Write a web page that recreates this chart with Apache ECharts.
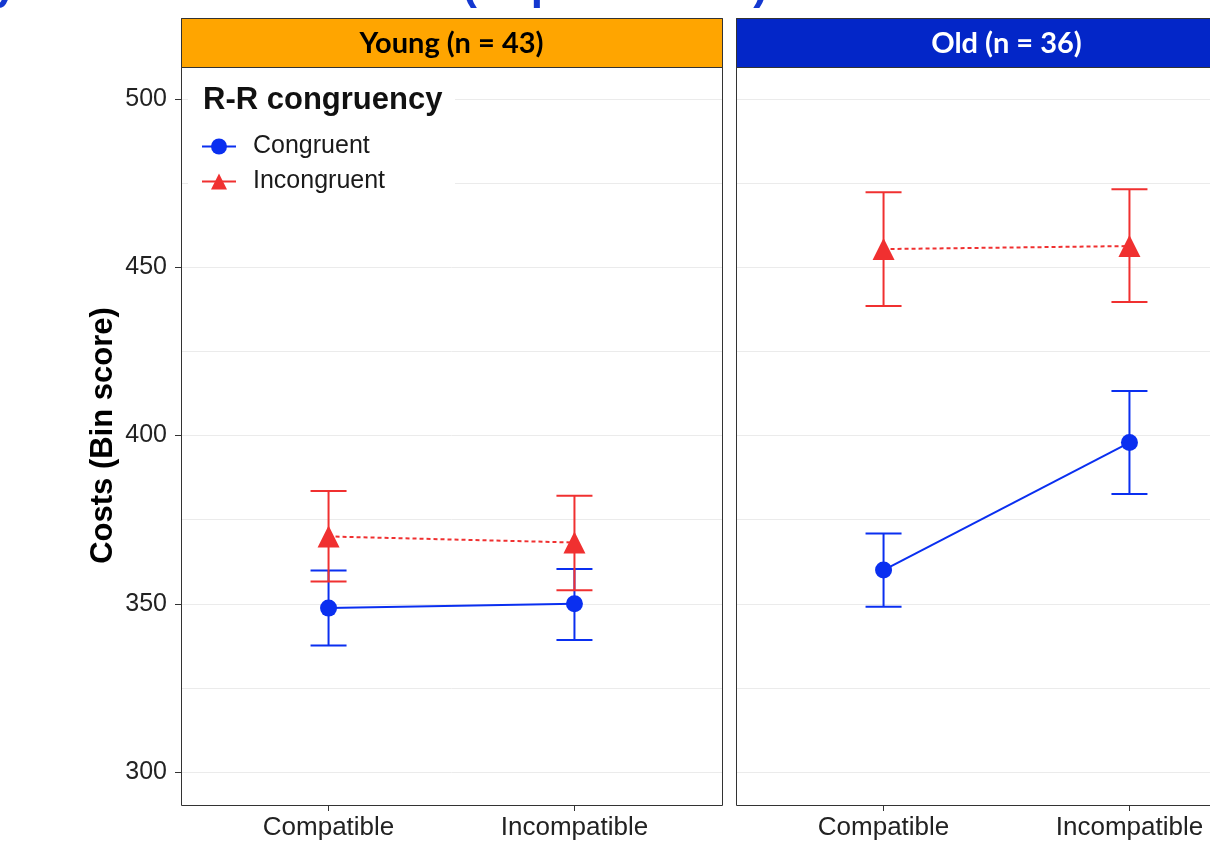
<!DOCTYPE html>
<html>
<head>
<meta charset="utf-8">
<script src="https://cdn.jsdelivr.net/npm/echarts@6/dist/echarts.min.js"></script>
<style>
  html, body { margin: 0; padding: 0; background: #fff; }
  #chart { width: 1210px; height: 843px; }
</style>
</head>
<body>
<div id="chart"></div>
<script>
// 横轴类别
const categories = ['Compatible', 'Incompatible']

// Young (n = 43)
const youngCongruent = [348.7, 350.0]
const youngCongruentLow = [337.6, 339.2]
const youngCongruentHigh = [359.9, 360.3]
const youngIncongruent = [370.0, 368.2]
const youngIncongruentLow = [356.6, 354.0]
const youngIncongruentHigh = [383.5, 382.1]

// Old (n = 36)
const oldCongruent = [360.0, 397.9]
const oldCongruentLow = [349.1, 382.6]
const oldCongruentHigh = [370.9, 413.2]
const oldIncongruent = [455.4, 456.3]
const oldIncongruentLow = [438.5, 439.7]
const oldIncongruentHigh = [472.3, 473.2]

const BLUE = '#0a2ff0'
const RED = '#f03030'
const FONT = '"Liberation Sans", Arial, sans-serif'

const chart = echarts.init(document.getElementById('chart'), null, { renderer: 'canvas' })

const points = (vals) => vals.map((v, i) => [i + 1, v])
const bars = (low, high) => low.map((v, i) => [i + 1, v, high[i]])

// 误差线
const errorBar = (name, color, gridIndex, data) => ({
  name,
  type: 'custom',
  xAxisIndex: gridIndex,
  yAxisIndex: gridIndex,
  data,
  z: 3,
  itemStyle: { color },
  renderItem (params, api) {
    const top = api.coord([api.value(0), api.value(2)])
    const bot = api.coord([api.value(0), api.value(1)])
    const w = 18
    const style = { stroke: color, lineWidth: 2 }
    return {
      type: 'group',
      children: [
        { type: 'line', shape: { x1: top[0], y1: top[1], x2: bot[0], y2: bot[1] }, style },
        { type: 'line', shape: { x1: top[0] - w, y1: top[1], x2: top[0] + w, y2: top[1] }, style },
        { type: 'line', shape: { x1: bot[0] - w, y1: bot[1], x2: bot[0] + w, y2: bot[1] }, style }
      ]
    }
  }
})

const lineSeries = (name, color, gridIndex, data, dotted) => ({
  name,
  type: 'line',
  xAxisIndex: gridIndex,
  yAxisIndex: gridIndex,
  data,
  z: 4,
  symbol: dotted ? 'triangle' : 'circle',
  symbolSize: dotted ? 22 : 17,
  showAllSymbol: true,
  itemStyle: { color },
  lineStyle: { color, width: 2, type: dotted ? [4, 3] : 'solid' },
  emphasis: { disabled: true }
})

const xAxis = (gridIndex) => ({
  type: 'value',
  gridIndex,
  min: 0.4,
  max: 2.6,
  offset: -135.25,
  axisLine: { show: false },
  splitLine: { show: false },
  axisTick: { show: true, length: 6, customValues: [1, 2], lineStyle: { color: '#333', width: 1 } },
  axisLabel: {
    customValues: [1, 2],
    formatter: (v) => categories[Math.round(v) - 1],
    margin: 10,
    fontSize: 26,
    fontFamily: FONT,
    color: '#222'
  }
})

// 主刻度 50，次网格 25
const yAxis = (gridIndex) => ({
  type: 'value',
  gridIndex,
  min: 250,
  max: 550,
  interval: 50,
  name: gridIndex === 0 ? 'Costs (Bin score)' : '',
  nameLocation: 'middle',
  nameGap: 62,
  nameTextStyle: { fontSize: 31, fontWeight: 'bold', fontFamily: FONT, color: '#000' },
  axisLine: { show: false },
  splitLine: { show: true, lineStyle: { color: '#ebebeb', width: 1 } },
  minorTick: { show: false, splitNumber: 2 },
  minorSplitLine: { show: true, lineStyle: { color: '#ebebeb', width: 1 } },
  axisTick: { show: gridIndex === 0, length: 6, lineStyle: { color: '#333', width: 1 } },
  axisLabel: {
    show: gridIndex === 0,
    margin: 14,
    fontSize: 25,
    fontFamily: FONT,
    color: '#222'
  }
})

chart.setOption({
  animation: false,
  backgroundColor: '#fff',
  grid: [
    { left: 181, top: -69.25, width: 541, height: 1009.5, outerBoundsMode: 'none', containLabel: false },
    { left: 736, top: -69.25, width: 541, height: 1009.5, outerBoundsMode: 'none', containLabel: false }
  ],
  xAxis: [xAxis(0), xAxis(1)],
  yAxis: [yAxis(0), yAxis(1)],
  legend: {
    data: ['Congruent', 'Incongruent'],
    orient: 'vertical',
    left: 201,
    top: 134,
    itemGap: 10,
    itemWidth: 34,
    itemHeight: 20,
    padding: 0,
    z: 10,
    selectedMode: false,
    lineStyle: { type: 'solid', width: 2 },
    textStyle: { fontSize: 25, fontFamily: FONT, color: '#1a1a1a', padding: [0, 0, 0, 12] }
  },
  graphic: [
    // 遮住面板上方的次网格线
    { type: 'rect', shape: { x: 170, y: 11, width: 1040, height: 7 }, style: { fill: '#fff' }, z: 15 },
    // 被截断的标题
    {
      type: 'text', left: -105, top: -35, z: 16,
      style: { text: 'Study 1 — Bin score costs (Experiment 1)', font: 'bold 44px "Liberation Sans", Arial, sans-serif', fill: '#1438d0' }
    },
    // 图例背景
    { type: 'rect', shape: { x: 188, y: 73, width: 267, height: 122 }, style: { fill: '#fff' }, z: 5 },
    {
      type: 'text', x: 203, y: 100, z: 11,
      style: { text: 'R-R congruency', font: 'bold 31px "Liberation Sans", Arial, sans-serif', fill: '#111', verticalAlign: 'middle' }
    },
    // 面板边框
    { type: 'rect', shape: { x: 181.5, y: 18.5, width: 541, height: 787 }, style: { fill: 'none', stroke: '#333', lineWidth: 1 }, z: 20 },
    { type: 'rect', shape: { x: 736.5, y: 18.5, width: 541, height: 787 }, style: { fill: 'none', stroke: '#333', lineWidth: 1 }, z: 20 },
    // 分面标签
    { type: 'rect', shape: { x: 181.5, y: 18.5, width: 541, height: 49 }, style: { fill: '#ffa500', stroke: '#333', lineWidth: 1 }, z: 21 },
    {
      type: 'text', x: 451.5, y: 44, z: 22,
      style: { text: 'Young (n = 43)', font: 'bold 29px Lato, "Open Sans", sans-serif', fill: '#000', align: 'center', verticalAlign: 'middle' }
    },
    { type: 'rect', shape: { x: 736.5, y: 18.5, width: 541, height: 49 }, style: { fill: '#0326c8', stroke: '#333', lineWidth: 1 }, z: 21 },
    {
      type: 'text', x: 1006.5, y: 44, z: 22,
      style: { text: 'Old (n = 36)', font: 'bold 29px Lato, "Open Sans", sans-serif', fill: '#fff', align: 'center', verticalAlign: 'middle' }
    }
  ],
  series: [
    lineSeries('Congruent', BLUE, 0, points(youngCongruent), false),
    lineSeries('Incongruent', RED, 0, points(youngIncongruent), true),
    lineSeries('Congruent', BLUE, 1, points(oldCongruent), false),
    lineSeries('Incongruent', RED, 1, points(oldIncongruent), true),
    errorBar('Congruent', BLUE, 0, bars(youngCongruentLow, youngCongruentHigh)),
    errorBar('Incongruent', RED, 0, bars(youngIncongruentLow, youngIncongruentHigh)),
    errorBar('Congruent', BLUE, 1, bars(oldCongruentLow, oldCongruentHigh)),
    errorBar('Incongruent', RED, 1, bars(oldIncongruentLow, oldIncongruentHigh))
  ]
})
</script>
</body>
</html>
